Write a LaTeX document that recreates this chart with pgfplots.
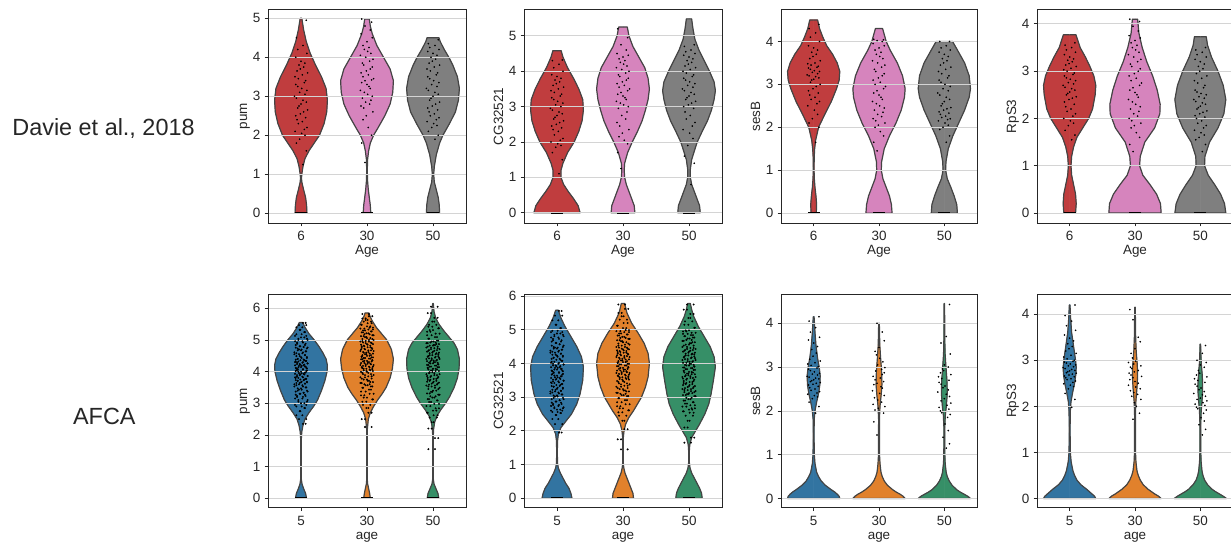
\documentclass[border=0pt]{standalone}
\usepackage{pgfplots}
\pgfplotsset{compat=1.18}
\usepackage{pgfplotstable}
\usepackage{fontspec}
\setmainfont{Liberation Sans}

\definecolor{cR}{HTML}{C03D3E}
\definecolor{cP}{HTML}{D684BD}
\definecolor{cG}{HTML}{7F7F7F}
\definecolor{cBl}{HTML}{3274A1}
\definecolor{cOr}{HTML}{E1812C}
\definecolor{cGr}{HTML}{368F67}
\definecolor{edge}{HTML}{444444}
\definecolor{frame}{HTML}{262626}

% ---------- violin profiles: y, half width (closed to the centre line at both ends) ----------
\pgfplotstableread[row sep=\\]{y w\\0 0\\0 0.09\\0.2 0.085\\0.4 0.07\\0.6 0.04\\0.8 0.012\\0.9 0.008\\1.0 0.012\\1.2 0.03\\1.4 0.06\\1.6 0.12\\1.8 0.2\\2.0 0.28\\2.3 0.35\\2.6 0.39\\2.9 0.4\\3.2 0.38\\3.5 0.31\\3.8 0.22\\4.1 0.14\\4.4 0.08\\4.7 0.04\\5.0 0.012\\5.0 0\\}\pumR
\pgfplotstableread[row sep=\\]{y w\\0 0\\0 0.058\\0.2 0.05\\0.4 0.035\\0.6 0.02\\0.8 0.01\\1.0 0.006\\1.2 0.006\\1.4 0.01\\1.6 0.025\\1.8 0.05\\2.0 0.1\\2.2 0.17\\2.5 0.27\\2.8 0.35\\3.1 0.39\\3.4 0.4\\3.7 0.35\\4.0 0.25\\4.3 0.15\\4.6 0.08\\4.8 0.05\\4.98 0.035\\4.98 0\\}\pumP
\pgfplotstableread[row sep=\\]{y w\\0 0\\0 0.1\\0.2 0.095\\0.4 0.08\\0.6 0.05\\0.8 0.02\\1.0 0.01\\1.2 0.02\\1.5 0.05\\1.8 0.1\\2.0 0.15\\2.3 0.25\\2.6 0.34\\2.9 0.385\\3.2 0.4\\3.5 0.37\\3.8 0.3\\4.0 0.24\\4.2 0.17\\4.4 0.11\\4.5 0.09\\4.5 0\\}\pumG
\pgfplotstableread[row sep=\\]{y w\\0 0\\0 0.35\\0.2 0.32\\0.4 0.25\\0.6 0.17\\0.8 0.1\\1.0 0.06\\1.2 0.06\\1.4 0.09\\1.7 0.16\\2.0 0.26\\2.3 0.33\\2.6 0.38\\2.9 0.4\\3.2 0.39\\3.5 0.33\\3.8 0.25\\4.1 0.16\\4.4 0.09\\4.58 0.063\\4.58 0\\}\cgR
\pgfplotstableread[row sep=\\]{y w\\0 0\\0 0.18\\0.2 0.17\\0.4 0.13\\0.6 0.09\\0.8 0.05\\1.0 0.025\\1.2 0.018\\1.4 0.025\\1.7 0.07\\2.0 0.14\\2.3 0.22\\2.6 0.29\\2.9 0.34\\3.2 0.38\\3.5 0.4\\3.8 0.38\\4.1 0.33\\4.4 0.24\\4.7 0.15\\5.0 0.09\\5.25 0.065\\5.25 0\\}\cgP
\pgfplotstableread[row sep=\\]{y w\\0 0\\0 0.17\\0.2 0.16\\0.4 0.12\\0.6 0.08\\0.8 0.04\\1.0 0.02\\1.2 0.018\\1.5 0.04\\1.8 0.09\\2.0 0.125\\2.3 0.2\\2.6 0.28\\2.9 0.34\\3.2 0.38\\3.45 0.4\\3.7 0.38\\4.0 0.31\\4.3 0.23\\4.6 0.15\\4.9 0.09\\5.2 0.06\\5.48 0.04\\5.48 0\\}\cgG
\pgfplotstableread[row sep=\\]{y w\\0 0\\0 0.04\\0.2 0.045\\0.4 0.035\\0.6 0.02\\0.8 0.01\\1.0 0.006\\1.3 0.008\\1.5 0.015\\1.7 0.03\\2.0 0.075\\2.3 0.17\\2.6 0.27\\2.9 0.35\\3.1 0.39\\3.3 0.4\\3.5 0.36\\3.7 0.29\\3.9 0.2\\4.1 0.14\\4.3 0.09\\4.5 0.06\\4.5 0\\}\sesR
\pgfplotstableread[row sep=\\]{y w\\0 0\\0 0.2\\0.2 0.19\\0.4 0.16\\0.6 0.11\\0.8 0.06\\1.0 0.035\\1.2 0.04\\1.5 0.08\\1.8 0.16\\2.1 0.26\\2.4 0.34\\2.7 0.39\\2.9 0.4\\3.2 0.36\\3.5 0.28\\3.8 0.17\\4.0 0.11\\4.3 0.055\\4.3 0\\}\sesP
\pgfplotstableread[row sep=\\]{y w\\0 0\\0 0.2\\0.2 0.19\\0.4 0.15\\0.6 0.1\\0.8 0.045\\1.0 0.02\\1.2 0.025\\1.5 0.06\\1.8 0.13\\2.1 0.22\\2.4 0.31\\2.7 0.38\\2.9 0.4\\3.2 0.38\\3.5 0.31\\3.8 0.2\\4.0 0.125\\4.0 0\\}\sesG
\pgfplotstableread[row sep=\\]{y w\\0 0\\0 0.09\\0.2 0.1\\0.4 0.09\\0.6 0.06\\0.8 0.03\\1.0 0.02\\1.2 0.03\\1.4 0.06\\1.6 0.11\\1.8 0.2\\2.0 0.29\\2.2 0.35\\2.5 0.39\\2.7 0.4\\2.9 0.37\\3.1 0.31\\3.3 0.24\\3.5 0.16\\3.77 0.096\\3.77 0\\}\rpsR
\pgfplotstableread[row sep=\\]{y w\\0 0\\0 0.4\\0.2 0.39\\0.4 0.33\\0.6 0.23\\0.8 0.12\\1.0 0.07\\1.2 0.08\\1.5 0.15\\1.8 0.3\\2.1 0.38\\2.3 0.385\\2.6 0.34\\2.9 0.27\\3.2 0.18\\3.5 0.11\\3.8 0.06\\4.1 0.04\\4.1 0\\}\rpsP
\pgfplotstableread[row sep=\\]{y w\\0 0\\0 0.39\\0.2 0.37\\0.4 0.31\\0.6 0.22\\0.8 0.12\\1.0 0.065\\1.2 0.07\\1.5 0.14\\1.8 0.27\\2.1 0.36\\2.4 0.39\\2.7 0.35\\3.0 0.27\\3.3 0.17\\3.55 0.11\\3.73 0.09\\3.73 0\\}\rpsG
\pgfplotstableread[row sep=\\]{y w\\0 0\\0 0.083\\0.15 0.07\\0.3 0.04\\0.45 0.015\\0.6 0.005\\1.0 0.004\\1.5 0.004\\1.9 0.006\\2.1 0.012\\2.3 0.03\\2.5 0.06\\2.7 0.12\\2.9 0.19\\3.1 0.25\\3.4 0.31\\3.7 0.36\\4.0 0.395\\4.2 0.4\\4.4 0.38\\4.6 0.33\\4.8 0.27\\5.0 0.2\\5.2 0.12\\5.4 0.06\\5.55 0.025\\5.55 0\\}\apumB
\pgfplotstableread[row sep=\\]{y w\\0 0\\0 0.05\\0.15 0.04\\0.3 0.025\\0.45 0.01\\0.6 0.004\\1.5 0.004\\2.2 0.006\\2.5 0.02\\2.7 0.05\\2.9 0.1\\3.1 0.16\\3.3 0.23\\3.5 0.29\\3.8 0.35\\4.1 0.385\\4.4 0.4\\4.7 0.37\\5.0 0.3\\5.2 0.22\\5.4 0.14\\5.6 0.08\\5.75 0.045\\5.85 0.03\\5.85 0\\}\apumO
\pgfplotstableread[row sep=\\]{y w\\0 0\\0 0.088\\0.15 0.075\\0.3 0.045\\0.45 0.015\\0.6 0.005\\1.5 0.004\\2.0 0.005\\2.2 0.01\\2.4 0.025\\2.6 0.06\\2.8 0.12\\3.0 0.19\\3.2 0.25\\3.5 0.32\\3.8 0.37\\4.1 0.395\\4.4 0.4\\4.7 0.37\\4.9 0.32\\5.1 0.24\\5.3 0.16\\5.5 0.09\\5.7 0.04\\5.9 0.015\\6.15 0.005\\6.15 0\\}\apumG
\pgfplotstableread[row sep=\\]{y w\\0 0\\0 0.227\\0.15 0.21\\0.3 0.18\\0.45 0.13\\0.6 0.09\\0.75 0.05\\0.9 0.02\\1.05 0.007\\1.4 0.005\\1.7 0.008\\1.9 0.02\\2.1 0.06\\2.3 0.14\\2.5 0.22\\2.8 0.3\\3.1 0.35\\3.5 0.39\\3.9 0.4\\4.2 0.37\\4.5 0.3\\4.8 0.21\\5.1 0.12\\5.35 0.06\\5.58 0.02\\5.58 0\\}\acgB
\pgfplotstableread[row sep=\\]{y w\\0 0\\0 0.16\\0.15 0.15\\0.3 0.12\\0.45 0.09\\0.6 0.06\\0.75 0.03\\0.9 0.012\\1.05 0.005\\1.8 0.005\\2.0 0.015\\2.2 0.04\\2.4 0.09\\2.6 0.16\\2.8 0.22\\3.0 0.28\\3.3 0.34\\3.6 0.38\\4.0 0.4\\4.3 0.38\\4.6 0.32\\4.9 0.23\\5.2 0.13\\5.5 0.06\\5.78 0.025\\5.78 0\\}\acgO
\pgfplotstableread[row sep=\\]{y w\\0 0\\0 0.2\\0.15 0.19\\0.3 0.16\\0.45 0.12\\0.6 0.08\\0.75 0.04\\0.9 0.015\\1.05 0.006\\1.4 0.005\\1.6 0.012\\1.8 0.04\\2.0 0.1\\2.2 0.16\\2.5 0.24\\2.8 0.3\\3.1 0.335\\3.5 0.37\\3.9 0.4\\4.2 0.38\\4.5 0.32\\4.8 0.23\\5.1 0.14\\5.4 0.07\\5.6 0.04\\5.78 0.02\\5.78 0\\}\acgG
\pgfplotstableread[row sep=\\]{y w\\0 0\\0 0.4\\0.05 0.39\\0.1 0.36\\0.15 0.32\\0.2 0.27\\0.3 0.18\\0.4 0.115\\0.5 0.075\\0.6 0.045\\0.8 0.02\\1.0 0.01\\1.4 0.006\\1.8 0.008\\2.0 0.02\\2.2 0.045\\2.4 0.075\\2.6 0.095\\2.8 0.1\\3.0 0.085\\3.2 0.06\\3.5 0.035\\3.8 0.02\\4.15 0.006\\4.15 0\\}\asesB
\pgfplotstableread[row sep=\\]{y w\\0 0\\0 0.4\\0.05 0.37\\0.1 0.32\\0.15 0.26\\0.2 0.21\\0.3 0.13\\0.4 0.08\\0.5 0.05\\0.6 0.03\\0.8 0.015\\1.0 0.008\\1.8 0.006\\2.1 0.015\\2.4 0.035\\2.6 0.045\\2.9 0.04\\3.2 0.025\\3.5 0.012\\4.0 0.005\\4.0 0\\}\asesO
\pgfplotstableread[row sep=\\]{y w\\0 0\\0 0.4\\0.05 0.36\\0.1 0.3\\0.15 0.24\\0.2 0.19\\0.3 0.12\\0.4 0.075\\0.5 0.045\\0.6 0.028\\0.8 0.013\\1.0 0.008\\1.6 0.006\\1.9 0.015\\2.1 0.03\\2.4 0.045\\2.7 0.04\\3.0 0.025\\3.3 0.012\\3.7 0.006\\4.45 0.004\\4.45 0\\}\asesG
\pgfplotstableread[row sep=\\]{y w\\0 0\\0 0.4\\0.05 0.38\\0.1 0.34\\0.15 0.3\\0.2 0.26\\0.3 0.17\\0.4 0.11\\0.5 0.075\\0.6 0.05\\0.8 0.022\\1.0 0.01\\1.5 0.006\\1.9 0.01\\2.1 0.02\\2.3 0.045\\2.5 0.075\\2.7 0.095\\2.85 0.1\\3.0 0.09\\3.2 0.07\\3.4 0.05\\3.6 0.03\\3.9 0.015\\4.2 0.005\\4.2 0\\}\arpsB
\pgfplotstableread[row sep=\\]{y w\\0 0\\0 0.4\\0.05 0.36\\0.1 0.3\\0.15 0.25\\0.2 0.2\\0.3 0.125\\0.4 0.08\\0.5 0.05\\0.6 0.03\\0.8 0.014\\1.0 0.008\\1.8 0.006\\2.1 0.013\\2.4 0.03\\2.65 0.04\\2.9 0.035\\3.2 0.018\\3.5 0.01\\4.15 0.004\\4.15 0\\}\arpsO
\pgfplotstableread[row sep=\\]{y w\\0 0\\0 0.4\\0.05 0.35\\0.1 0.29\\0.15 0.23\\0.2 0.18\\0.3 0.11\\0.4 0.065\\0.5 0.04\\0.6 0.025\\0.8 0.012\\1.0 0.007\\1.6 0.006\\1.9 0.013\\2.1 0.025\\2.3 0.035\\2.5 0.035\\2.7 0.028\\2.9 0.016\\3.1 0.009\\3.35 0.004\\3.35 0\\}\arpsG

% ---------- jittered cells: dx, values of the three groups ----------
\pgfplotstableread[row sep=\\]{dx a b c\\
0.03 1.25 1.3 1.9\\0.08 1.6 1.8 2.0\\-0.07 1.8 2.0 2.1\\-0.02 1.9 2.2 2.2\\0.06 2.0 2.4 2.25\\0.01 2.05 2.5 2.3\\-0.09 2.1 2.6 2.35\\0.05 2.15 2.7 2.4\\0.09 2.2 2.75 2.45\\-0.04 2.3 2.8 2.5\\
0.02 2.35 2.85 2.55\\-0.06 2.4 2.9 2.6\\0.07 2.45 2.95 2.65\\-0.08 2.5 3.0 2.7\\-0.01 2.55 3.05 2.75\\0.04 2.6 3.1 2.8\\0.1 2.65 3.15 2.85\\-0.05 2.7 3.2 2.9\\-0.03 2.75 3.25 2.95\\0 2.8 3.3 3.0\\
0.08 2.85 3.35 3.05\\0.03 2.9 3.4 3.1\\-0.07 2.95 3.42 3.15\\-0.1 3.0 3.45 3.2\\0.06 3.05 3.5 3.25\\-0.02 3.1 3.55 3.3\\0.09 3.15 3.6 3.35\\0.01 3.2 3.65 3.4\\-0.05 3.25 3.7 3.45\\-0.08 3.3 3.75 3.5\\
0.05 3.35 3.8 3.55\\0.07 3.4 3.85 3.6\\-0.04 3.45 3.9 3.65\\-0.09 3.5 3.95 3.7\\0.02 3.55 4.0 3.75\\0.1 3.6 4.05 3.8\\-0.06 3.65 4.1 3.85\\-0.01 3.7 4.15 3.9\\0.04 3.75 4.2 3.95\\-0.03 3.8 4.25 4.0\\
0.06 3.85 4.3 4.05\\0 3.9 4.4 4.1\\-0.08 4.0 4.5 4.15\\0.09 4.1 4.6 4.2\\-0.05 4.2 4.7 4.25\\0.03 4.3 4.8 4.3\\-0.07 4.5 4.9 4.35\\0.08 4.95 4.98 4.45\\}\tpum

\pgfplotstableread[row sep=\\]{dx a b c\\
0.03 1.1 1.25 0.8\\0.08 1.5 1.7 1.4\\-0.07 1.7 1.95 1.6\\-0.02 1.85 2.05 1.9\\0.06 1.9 2.15 2.1\\0.01 1.95 2.25 2.25\\-0.09 2.0 2.35 2.35\\0.05 2.05 2.45 2.45\\0.09 2.1 2.55 2.55\\-0.04 2.2 2.65 2.65\\
0.02 2.3 2.75 2.75\\-0.06 2.35 2.85 2.85\\0.07 2.4 2.95 2.95\\-0.08 2.45 3.0 3.0\\-0.01 2.5 3.05 3.05\\0.04 2.55 3.1 3.1\\0.1 2.6 3.15 3.15\\-0.05 2.65 3.2 3.2\\-0.03 2.7 3.25 3.25\\0 2.75 3.3 3.3\\
0.08 2.8 3.35 3.35\\0.03 2.85 3.4 3.4\\-0.07 2.9 3.45 3.45\\-0.1 2.95 3.5 3.5\\0.06 3.0 3.55 3.55\\-0.02 3.05 3.6 3.6\\0.09 3.1 3.65 3.65\\0.01 3.15 3.7 3.7\\-0.05 3.2 3.75 3.75\\-0.08 3.25 3.8 3.8\\
0.05 3.3 3.85 3.85\\0.07 3.35 3.9 3.9\\-0.04 3.4 3.95 3.95\\-0.09 3.45 4.0 4.0\\0.02 3.5 4.05 4.05\\0.1 3.55 4.1 4.1\\-0.06 3.6 4.15 4.15\\-0.01 3.65 4.2 4.2\\0.04 3.7 4.25 4.25\\-0.03 3.75 4.3 4.3\\
0.06 3.8 4.35 4.35\\0 3.85 4.4 4.4\\-0.08 3.9 4.45 4.45\\0.09 4.0 4.5 4.5\\-0.05 4.1 4.6 4.55\\0.03 4.2 4.75 4.6\\-0.07 4.3 4.95 4.7\\0.08 4.32 5.2 4.75\\}\tcg

\pgfplotstableread[row sep=\\]{dx a b c\\
0.03 1.65 1.45 1.65\\0.08 2.0 1.65 1.8\\-0.07 2.1 1.8 1.95\\-0.02 2.2 1.9 2.0\\0.06 2.3 2.0 2.05\\0.01 2.4 2.05 2.1\\-0.09 2.5 2.1 2.15\\0.05 2.55 2.15 2.18\\0.09 2.6 2.2 2.2\\-0.04 2.65 2.25 2.23\\
0.02 2.7 2.3 2.26\\-0.06 2.75 2.35 2.3\\0.07 2.8 2.4 2.33\\-0.08 2.85 2.45 2.36\\-0.01 2.9 2.5 2.4\\0.04 2.95 2.55 2.43\\0.1 3.0 2.6 2.46\\-0.05 3.05 2.65 2.5\\-0.03 3.1 2.7 2.55\\0 3.12 2.75 2.6\\
0.08 3.15 2.8 2.65\\0.03 3.18 2.85 2.7\\-0.07 3.2 2.9 2.75\\-0.1 3.22 2.95 2.8\\0.06 3.25 3.0 2.85\\-0.02 3.28 3.05 2.9\\0.09 3.3 3.1 2.95\\0.01 3.32 3.15 3.0\\-0.05 3.35 3.2 3.05\\-0.08 3.38 3.25 3.1\\
0.05 3.4 3.3 3.15\\0.07 3.42 3.35 3.2\\-0.04 3.45 3.4 3.25\\-0.09 3.48 3.45 3.3\\0.02 3.5 3.5 3.35\\0.1 3.55 3.55 3.4\\-0.06 3.6 3.6 3.45\\-0.01 3.65 3.65 3.5\\0.04 3.7 3.7 3.55\\-0.03 3.75 3.75 3.6\\
0.06 3.8 3.8 3.65\\0 3.85 3.85 3.7\\-0.08 3.9 3.9 3.75\\0.09 4.0 3.95 3.8\\-0.05 4.1 4.0 3.85\\0.03 4.2 4.02 3.9\\-0.07 4.3 4.04 4.0\\0.08 4.4 4.05 4.0\\}\tses

\pgfplotstableread[row sep=\\]{dx a b c\\
0.03 1.55 1.3 1.3\\0.08 1.65 1.45 1.45\\-0.07 1.75 1.6 1.55\\-0.02 1.85 1.7 1.6\\0.06 1.9 1.8 1.65\\0.01 1.95 1.85 1.7\\-0.09 2.0 1.9 1.75\\0.05 2.05 1.95 1.8\\0.09 2.1 2.0 1.85\\-0.04 2.15 2.05 1.9\\
0.02 2.2 2.1 1.95\\-0.06 2.25 2.15 2.0\\0.07 2.3 2.2 2.03\\-0.08 2.35 2.25 2.06\\-0.01 2.4 2.3 2.1\\0.04 2.43 2.35 2.13\\0.1 2.46 2.4 2.16\\-0.05 2.5 2.45 2.2\\-0.03 2.53 2.5 2.23\\0 2.56 2.55 2.26\\
0.08 2.6 2.6 2.3\\0.03 2.63 2.65 2.33\\-0.07 2.66 2.7 2.36\\-0.1 2.7 2.75 2.4\\0.06 2.73 2.8 2.43\\-0.02 2.76 2.85 2.46\\0.09 2.8 2.9 2.5\\0.01 2.83 2.95 2.53\\-0.05 2.86 3.0 2.56\\-0.08 2.9 3.05 2.6\\
0.05 2.93 3.1 2.65\\0.07 2.96 3.15 2.7\\-0.04 3.0 3.2 2.75\\-0.09 3.03 3.25 2.8\\0.02 3.06 3.3 2.85\\0.1 3.1 3.35 2.9\\-0.06 3.13 3.4 2.95\\-0.01 3.16 3.45 3.0\\0.04 3.2 3.5 3.05\\-0.03 3.23 3.55 3.1\\
0.06 3.26 3.6 3.15\\0 3.3 3.65 3.2\\-0.08 3.35 3.7 3.25\\0.09 3.4 3.75 3.3\\-0.05 3.45 3.85 3.35\\0.03 3.5 3.95 3.4\\-0.07 3.55 4.05 3.45\\0.08 3.6 4.1 3.5\\}\trps

\pgfplotstableread[row sep=\\]{dx dd a b c\\
0.03 0.07 2.35 2.25 1.55\\0.08 -0.03 2.5 2.5 1.9\\-0.07 0.02 2.62 2.7 2.2\\-0.02 -0.01 2.75 2.85 2.4\\0.06 0.05 2.85 2.95 2.55\\0.01 -0.07 2.9 3.05 2.62\\-0.09 0.08 2.95 3.12 2.7\\0.05 0 3.0 3.18 2.77\\0.09 -0.04 3.05 3.25 2.84\\-0.04 0.1 3.1 3.3 2.91\\
0.02 -0.09 3.15 3.37 2.98\\-0.06 0.03 3.2 3.43 3.04\\0.07 -0.06 3.23 3.49 3.09\\-0.08 0.06 3.27 3.53 3.13\\-0.01 -0.02 3.3 3.57 3.18\\0.04 0.04 3.33 3.6 3.22\\0.1 -0.08 3.37 3.64 3.27\\-0.05 0.09 3.4 3.67 3.31\\-0.03 0.01 3.43 3.71 3.36\\0 -0.05 3.47 3.75 3.4\\
0.08 0.07 3.5 3.78 3.45\\0.03 -0.1 3.53 3.82 3.49\\-0.07 0.02 3.57 3.85 3.53\\-0.1 -0.03 3.6 3.89 3.56\\0.06 0.06 3.62 3.92 3.59\\-0.02 -0.07 3.64 3.96 3.62\\0.09 0 3.66 3.99 3.65\\0.01 0.09 3.68 4.02 3.68\\-0.05 -0.05 3.71 4.04 3.71\\-0.08 0.04 3.73 4.07 3.74\\
0.05 -0.01 3.75 4.09 3.77\\0.07 0.08 3.77 4.11 3.8\\-0.04 -0.08 3.8 4.14 3.83\\-0.09 0.03 3.82 4.16 3.86\\0.02 -0.06 3.84 4.18 3.89\\0.1 0.1 3.86 4.21 3.92\\-0.06 -0.02 3.89 4.23 3.95\\-0.01 0.05 3.91 4.25 3.98\\0.04 -0.09 3.93 4.27 4.02\\-0.03 0.01 3.95 4.3 4.04\\
0.06 0.07 3.97 4.32 4.07\\0 -0.04 4.0 4.34 4.09\\-0.08 0.08 4.02 4.36 4.12\\0.09 -0.07 4.04 4.39 4.14\\-0.05 0.03 4.06 4.41 4.16\\0.03 -0.05 4.08 4.43 4.19\\-0.07 0.09 4.1 4.45 4.21\\0.08 -0.08 4.12 4.47 4.23\\-0.04 0 4.14 4.5 4.26\\0.07 0.06 4.16 4.52 4.28\\
0.01 -0.03 4.18 4.55 4.3\\-0.09 0.04 4.2 4.57 4.33\\0.05 -0.01 4.22 4.6 4.35\\-0.02 -0.06 4.24 4.62 4.37\\0.1 0.1 4.26 4.65 4.4\\-0.06 0.02 4.28 4.67 4.42\\0.03 -0.09 4.3 4.7 4.44\\-0.08 -0.04 4.32 4.72 4.47\\0.08 0.07 4.34 4.75 4.49\\-0.01 0.05 4.36 4.77 4.52\\
0.04 -0.08 4.38 4.8 4.55\\-0.05 -0.05 4.4 4.82 4.58\\0.09 0.01 4.43 4.85 4.6\\0 0.09 4.46 4.87 4.63\\-0.07 -0.02 4.49 4.9 4.66\\0.06 0.06 4.52 4.92 4.68\\-0.03 -0.1 4.55 4.95 4.71\\0.02 -0.07 4.58 4.97 4.74\\-0.1 0.03 4.61 5.0 4.76\\0.07 0.08 4.64 5.03 4.79\\
-0.05 0 4.67 5.06 4.82\\0.01 -0.03 4.7 5.09 4.84\\0.09 -0.05 4.73 5.12 4.87\\-0.08 0.1 4.76 5.15 4.9\\0.04 0.04 4.78 5.18 4.92\\-0.02 -0.01 4.8 5.21 4.95\\0.06 -0.08 4.84 5.24 4.98\\-0.06 0.07 4.88 5.27 5.04\\0.03 -0.06 4.92 5.3 5.09\\-0.09 0.02 4.96 5.33 5.15\\
0.1 -0.04 5.0 5.36 5.2\\-0.04 0.09 5.04 5.39 5.26\\0 0.05 5.08 5.43 5.31\\0.08 -0.09 5.13 5.48 5.37\\-0.07 0.01 5.18 5.53 5.42\\0.05 0.06 5.25 5.58 5.48\\-0.01 -0.02 5.32 5.63 5.58\\0.02 -0.07 5.4 5.68 5.7\\-0.03 0.08 5.47 5.75 5.85\\0.07 0.03 5.54 5.82 6.05\\}\upum

\pgfplotstableread[row sep=\\]{dx dd a b c\\
0.03 0.07 1.95 1.45 1.65\\0.08 -0.03 2.2 1.75 1.8\\-0.07 0.02 2.35 2.05 2.1\\-0.02 -0.01 2.47 2.3 2.3\\0.06 0.05 2.53 2.45 2.45\\0.01 -0.07 2.56 2.55 2.54\\-0.09 0.08 2.6 2.61 2.58\\0.05 0 2.63 2.67 2.63\\0.09 -0.04 2.67 2.73 2.67\\-0.04 0.1 2.7 2.79 2.72\\
0.02 -0.09 2.74 2.85 2.76\\-0.06 0.03 2.77 2.91 2.81\\0.07 -0.06 2.8 2.97 2.85\\-0.08 0.06 2.84 3.03 2.9\\-0.01 -0.02 2.87 3.06 2.94\\0.04 0.04 2.91 3.1 2.98\\0.1 -0.08 2.94 3.13 3.03\\-0.05 0.09 2.98 3.17 3.06\\-0.03 0.01 3.02 3.2 3.09\\0 -0.05 3.05 3.24 3.12\\
0.08 0.07 3.08 3.27 3.15\\0.03 -0.1 3.11 3.31 3.18\\-0.07 0.02 3.14 3.34 3.21\\-0.1 -0.03 3.17 3.38 3.24\\0.06 0.06 3.19 3.41 3.27\\-0.02 -0.07 3.22 3.45 3.3\\0.09 0 3.25 3.48 3.33\\0.01 0.09 3.28 3.52 3.36\\-0.05 -0.05 3.31 3.54 3.39\\-0.08 0.04 3.33 3.57 3.42\\
0.05 -0.01 3.36 3.59 3.45\\0.07 0.08 3.39 3.62 3.48\\-0.04 -0.08 3.42 3.64 3.52\\-0.09 0.03 3.44 3.67 3.55\\0.02 -0.06 3.47 3.69 3.57\\0.1 0.1 3.49 3.72 3.6\\-0.06 -0.02 3.52 3.74 3.62\\-0.01 0.05 3.54 3.77 3.65\\0.04 -0.09 3.57 3.79 3.68\\-0.03 0.01 3.59 3.82 3.7\\
0.06 0.07 3.62 3.84 3.73\\0 -0.04 3.64 3.87 3.75\\-0.08 0.08 3.67 3.89 3.78\\0.09 -0.07 3.69 3.92 3.81\\-0.05 0.03 3.72 3.94 3.83\\0.03 -0.05 3.74 3.97 3.86\\-0.07 0.09 3.77 3.99 3.88\\0.08 -0.08 3.79 4.02 3.91\\-0.04 0 3.82 4.04 3.94\\0.07 0.06 3.84 4.07 3.96\\
0.01 -0.03 3.87 4.09 3.99\\-0.09 0.04 3.89 4.12 4.02\\0.05 -0.01 3.92 4.14 4.05\\-0.02 -0.06 3.94 4.17 4.07\\0.1 0.1 3.97 4.19 4.1\\-0.06 0.02 3.99 4.22 4.13\\0.03 -0.09 4.02 4.24 4.16\\-0.08 -0.04 4.05 4.27 4.18\\0.08 0.07 4.08 4.29 4.21\\-0.01 0.05 4.11 4.32 4.24\\
0.04 -0.08 4.14 4.34 4.27\\-0.05 -0.05 4.17 4.37 4.29\\0.09 0.01 4.2 4.39 4.32\\0 0.09 4.23 4.42 4.35\\-0.07 -0.02 4.26 4.44 4.38\\0.06 0.06 4.29 4.47 4.4\\-0.03 -0.1 4.32 4.49 4.43\\0.02 -0.07 4.35 4.53 4.46\\-0.1 0.03 4.38 4.56 4.49\\0.07 0.08 4.41 4.59 4.53\\
-0.05 0 4.44 4.63 4.56\\0.01 -0.03 4.47 4.66 4.6\\0.09 -0.05 4.49 4.69 4.63\\-0.08 0.1 4.53 4.73 4.67\\0.04 0.04 4.57 4.76 4.7\\-0.02 -0.01 4.61 4.79 4.74\\0.06 -0.08 4.65 4.83 4.77\\-0.06 0.07 4.69 4.86 4.81\\0.03 -0.06 4.73 4.89 4.84\\-0.09 0.02 4.77 4.93 4.88\\
0.1 -0.04 4.81 4.96 4.91\\-0.04 0.09 4.85 4.99 4.95\\0 0.05 4.89 5.05 4.98\\0.08 -0.09 4.93 5.12 5.06\\-0.07 0.01 4.97 5.2 5.15\\0.05 0.06 5.05 5.3 5.25\\-0.01 -0.02 5.15 5.4 5.35\\0.02 -0.07 5.28 5.5 5.47\\-0.03 0.08 5.42 5.62 5.6\\0.07 0.03 5.56 5.75 5.75\\}\ucg

\pgfplotstableread[row sep=\\]{dx a b c\\
0.03 1.95 1.45 1.15\\0.08 2.1 1.75 1.25\\-0.07 2.2 1.95 nan\\-0.02 2.28 nan 1.4\\0.06 2.32 2.02 1.55\\0.01 2.35 2.06 1.7\\-0.09 2.38 2.1 nan\\0.05 2.41 nan 1.85\\0.09 2.44 2.15 1.92\\-0.04 2.47 2.2 1.96\\
0.02 2.5 2.25 nan\\-0.06 2.53 nan 2.0\\0.07 2.56 2.3 2.04\\-0.08 2.59 2.35 2.08\\-0.01 2.61 2.4 nan\\0.04 2.63 nan 2.13\\0.1 2.65 2.46 2.18\\-0.05 2.67 2.52 2.23\\-0.03 2.69 2.55 nan\\0 2.71 nan 2.28\\
0.08 2.73 2.6 2.33\\0.03 2.75 2.63 2.38\\-0.07 2.77 2.67 nan\\-0.1 2.79 nan 2.43\\0.06 2.82 2.71 2.48\\-0.02 2.84 2.75 2.53\\0.09 2.86 2.79 nan\\0.01 2.89 nan 2.57\\-0.05 2.92 2.83 2.61\\-0.08 2.95 2.87 2.65\\
0.05 2.98 2.91 nan\\0.07 3.01 nan 2.7\\-0.04 3.04 2.95 2.74\\-0.09 3.07 2.99 2.78\\0.02 3.1 3.05 nan\\0.1 3.14 nan 2.83\\-0.06 3.18 3.12 2.87\\-0.01 3.25 3.2 2.92\\0.04 3.32 3.28 nan\\-0.03 3.4 nan 2.96\\
0.06 3.47 3.36 3.0\\0 3.55 3.45 3.05\\-0.08 3.62 3.6 nan\\0.09 3.68 nan 3.3\\-0.05 3.8 3.8 3.55\\0.03 3.9 4.0 3.7\\-0.07 4.05 nan nan\\0.08 4.15 nan 4.43\\}\uses

\pgfplotstableread[row sep=\\]{dx a b c\\
0.03 1.98 1.72 1.38\\0.08 2.15 nan 1.5\\-0.07 2.28 1.85 nan\\-0.02 2.38 2.0 1.6\\0.06 2.43 nan 1.68\\0.01 2.46 2.08 1.75\\-0.09 2.49 2.15 nan\\0.05 2.52 2.22 1.85\\0.09 2.55 nan 1.92\\-0.04 2.58 2.26 1.95\\
0.02 2.6 2.3 nan\\-0.06 2.62 nan 1.98\\0.07 2.64 2.34 2.02\\-0.08 2.66 2.38 2.05\\-0.01 2.68 2.42 nan\\0.04 2.7 nan 2.08\\0.1 2.72 2.46 2.12\\-0.05 2.73 2.5 2.15\\-0.03 2.75 nan nan\\0 2.77 2.54 2.18\\
0.08 2.78 2.58 2.22\\0.03 2.8 2.62 2.25\\-0.07 2.82 nan nan\\-0.1 2.84 2.65 2.28\\0.06 2.86 2.68 2.32\\-0.02 2.88 nan 2.36\\0.09 2.9 2.72 nan\\0.01 2.92 2.75 2.4\\-0.05 2.94 2.78 2.44\\-0.08 2.96 nan 2.48\\
0.05 2.98 2.82 nan\\0.07 3.0 2.85 2.52\\-0.04 3.03 nan 2.56\\-0.09 3.07 2.88 2.6\\0.02 3.11 2.92 nan\\0.1 3.15 2.95 2.64\\-0.06 3.2 nan 2.68\\-0.01 3.25 2.98 2.72\\0.04 3.3 3.05 nan\\-0.03 3.36 nan 2.78\\
0.06 3.42 3.15 2.85\\0 3.48 3.25 2.9\\-0.08 3.55 3.4 nan\\0.09 3.65 nan 2.95\\-0.05 3.75 3.5 3.0\\0.03 3.85 3.88 3.15\\-0.07 3.97 nan nan\\0.08 4.2 4.1 3.32\\}\urps

% ---------- helpers ----------
% #1 position, #2 fill colour, #3 profile table
\newcommand{\violin}[3]{%
  \addplot[fill=#2, draw=#2, line width=0.5bp] table[x expr=#1+\thisrow{w}, y=y]{#3} -- cycle;
  \addplot[fill=#2, draw=#2, line width=0.5bp] table[x expr=#1-\thisrow{w}, y=y]{#3} -- cycle;
  \addplot[draw=edge, line width=1.2bp, line join=round] table[x expr=#1+\thisrow{w}, y=y]{#3};
  \addplot[draw=edge, line width=1.2bp, line join=round] table[x expr=#1-\thisrow{w}, y=y]{#3};
}
% #1 position, #2 sign, #3 jitter column, #4 value column, #5 table, #6 mark size
\newcommand{\jit}[6]{%
  \addplot[only marks, mark=*, mark size=#6, mark options={fill=black, draw=none}] table[x expr=#1#2(\thisrow{#3}), y=#4]{#5};
}
\newcommand{\jone}[1]{% one pass per group
  \jit{0}{+}{dx}{a}{#1}{0.6bp}\jit{1}{-}{dx}{b}{#1}{0.6bp}\jit{2}{+}{dx}{c}{#1}{0.6bp}%
}
\newcommand{\jdense}[1]{% two independent jitter columns per group
  \jit{0}{+}{dx}{a}{#1}{0.75bp}\jit{0}{+}{dd}{a}{#1}{0.75bp}%
  \jit{1}{-}{dx}{b}{#1}{0.75bp}\jit{1}{+}{dd}{b}{#1}{0.75bp}%
  \jit{2}{+}{dx}{c}{#1}{0.75bp}\jit{2}{-}{dd}{c}{#1}{0.75bp}%
}
\newcommand{\zerobars}{%
  \addplot[black, line width=1.6bp] coordinates {(-0.09,0) (0.09,0)};
  \addplot[black, line width=1.6bp] coordinates {(0.91,0) (1.09,0)};
  \addplot[black, line width=1.6bp] coordinates {(1.91,0) (2.09,0)};
}

\pgfplotsset{
  vio/.style={
    scale only axis, height=213.3bp, anchor=south west,
    xmin=-0.5, xmax=2.5, xtick={0,1,2},
    ytick={0,1,2,3,4,5,6},
    ymajorgrids, major grid style={color=black!17, line width=0.8bp},
    tick align=outside, tick pos=left, major tick length=3.5bp,
    axis line style={frame, line width=0.8bp},
    every tick/.style={frame, line width=0.8bp},
    tick label style={font=\fontsize{13.5}{15}\selectfont, text=frame},
    yticklabel style={inner sep=0pt, xshift=-4bp},
    xticklabel style={inner sep=0pt, yshift=-4.5bp},
    /pgf/number format/assume math mode=true,
    axis on top,
    every axis x label/.style={at={(axis description cs:0.5,-0.150)}, anchor=base, inner sep=0pt, font=\fontsize{13.5}{15}\selectfont, text=frame},
    every axis y label/.style={at={(axis description cs:-0.106,0.5)}, rotate=90, anchor=base, inner sep=0pt, font=\fontsize{13.5}{15}\selectfont, text=frame},
  }
}

\begin{document}
\begin{tikzpicture}
\node[anchor=base, font=\fontsize{23.5}{27}\selectfont, text=frame] at (103.5bp,410bp) {Davie et al., 2018};
\node[anchor=base, font=\fontsize{23.5}{27}\selectfont, text=frame] at (104.3bp,121.7bp) {AFCA};

% ===== row 1 =====
\begin{axis}[vio, at={(268bp,323bp)}, width=198bp, ymin=-0.25, ymax=5.22, xticklabels={6,30,50}, xlabel={Age}, ylabel={pum}]
\violin{0}{cR}{\pumR}\violin{1}{cP}{\pumP}\violin{2}{cG}{\pumG}
\zerobars
\jone{\tpum}
\end{axis}

\begin{axis}[vio, at={(524bp,323bp)}, width=198bp, ymin=-0.29, ymax=5.74, xticklabels={6,30,50}, xlabel={Age}, ylabel={CG32521}]
\violin{0}{cR}{\cgR}\violin{1}{cP}{\cgP}\violin{2}{cG}{\cgG}
\zerobars
\jone{\tcg}
\end{axis}

\begin{axis}[vio, at={(781bp,323bp)}, width=196bp, ymin=-0.23, ymax=4.74, xticklabels={6,30,50}, xlabel={Age}, ylabel={sesB}]
\violin{0}{cR}{\sesR}\violin{1}{cP}{\sesP}\violin{2}{cG}{\sesG}
\zerobars
\jone{\tses}
\end{axis}

\begin{axis}[vio, at={(1037bp,323bp)}, width=196bp, ymin=-0.21, ymax=4.30, xticklabels={6,30,50}, xlabel={Age}, ylabel={RpS3}]
\violin{0}{cR}{\rpsR}\violin{1}{cP}{\rpsP}\violin{2}{cG}{\rpsG}
\zerobars
\jone{\trps}
\end{axis}

% ===== row 2 =====
\begin{axis}[vio, at={(268bp,38.3bp)}, width=198bp, ymin=-0.30, ymax=6.44, xticklabels={5,30,50}, xlabel={age}, ylabel={pum}]
\violin{0}{cBl}{\apumB}\violin{1}{cOr}{\apumO}\violin{2}{cGr}{\apumG}
\zerobars
\jdense{\upum}
\end{axis}

\begin{axis}[vio, at={(524bp,38.3bp)}, width=198bp, ymin=-0.28, ymax=6.05, xticklabels={5,30,50}, xlabel={age}, ylabel={CG32521}]
\violin{0}{cBl}{\acgB}\violin{1}{cOr}{\acgO}\violin{2}{cGr}{\acgG}
\zerobars
\jdense{\ucg}
\end{axis}

\begin{axis}[vio, at={(781bp,38.3bp)}, width=196bp, ymin=-0.21, ymax=4.66, xticklabels={5,30,50}, xlabel={age}, ylabel={sesB}]
\violin{0}{cBl}{\asesB}\violin{1}{cOr}{\asesO}\violin{2}{cGr}{\asesG}
\zerobars
\jone{\uses}
\end{axis}

\begin{axis}[vio, at={(1037bp,38.3bp)}, width=196bp, ymin=-0.20, ymax=4.43, xticklabels={5,30,50}, xlabel={age}, ylabel={RpS3}]
\violin{0}{cBl}{\arpsB}\violin{1}{cOr}{\arpsO}\violin{2}{cGr}{\arpsG}
\zerobars
\jone{\urps}
\end{axis}

\pgfresetboundingbox
\path[use as bounding box] (0,0) rectangle (1231bp,546bp);
\end{tikzpicture}
\end{document}
